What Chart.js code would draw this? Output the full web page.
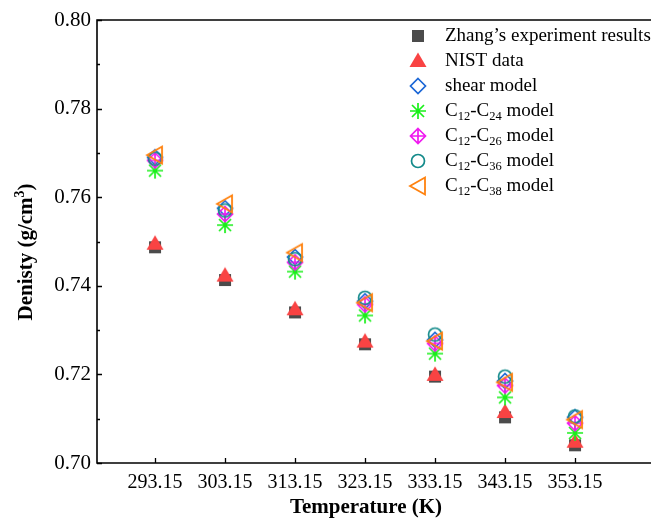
<!DOCTYPE html>
<html>
<head>
<meta charset="utf-8">
<script src="https://cdn.jsdelivr.net/npm/chart.js@4.4.0/dist/chart.umd.min.js"></script>
<style>
  html, body { margin: 0; padding: 0; background: #fff; overflow: hidden; }
  #wrap { width: 651px; height: 526px; position: relative; }
</style>
</head>
<body>
<div id="wrap"><canvas id="myChart" width="651" height="526"></canvas></div>
<script>
'use strict';

// temperatures on the x axis (K)
const temps = [293.15, 303.15, 313.15, 323.15, 333.15, 343.15, 353.15];
// density values (g/cm3), one array per series
const zhang = [0.7487, 0.7413, 0.7340, 0.7268, 0.7195, 0.7103, 0.7040];
const nist  = [0.7495, 0.7423, 0.7347, 0.7274, 0.7199, 0.7115, 0.7048];
const shear = [0.7690, 0.7575, 0.7465, 0.7365, 0.7278, 0.7185, 0.7103];
const c24   = [0.7660, 0.7537, 0.7432, 0.7333, 0.7247, 0.7148, 0.7068];
const c26   = [0.7683, 0.7562, 0.7453, 0.7358, 0.7270, 0.7175, 0.7090];
const c36   = [0.7687, 0.7570, 0.7460, 0.7373, 0.7290, 0.7195, 0.7105];
const c38   = [0.7695, 0.7585, 0.7475, 0.7362, 0.7275, 0.7182, 0.7098];
// y tick labels
const yTicks = [0.70, 0.72, 0.74, 0.76, 0.78, 0.80];
const yMinor = [0.71, 0.73, 0.75, 0.77, 0.79];

const serif = '"Liberation Serif", "Times New Roman", serif';

// builds a small canvas with a marker drawn in its middle
function makeMarker(draw) {
  let c = document.createElement('canvas');
  c.width = 24;
  c.height = 24;
  let ctx = c.getContext('2d');
  ctx.translate(12, 12);
  ctx.lineJoin = 'miter';
  draw(ctx);
  return c;
}

const markers = {
  square: makeMarker(function (ctx) {
    ctx.fillStyle = '#4b4b4b';
    ctx.fillRect(-6, -6, 12, 12);
  }),
  triangle: makeMarker(function (ctx) {
    ctx.fillStyle = '#f94343';
    ctx.beginPath();
    ctx.moveTo(0, -8.5);
    ctx.lineTo(8.5, 6);
    ctx.lineTo(-8.5, 6);
    ctx.closePath();
    ctx.fill();
  }),
  diamond: makeMarker(function (ctx) {
    ctx.strokeStyle = '#1a66d6';
    ctx.lineWidth = 1.7;
    ctx.beginPath();
    ctx.moveTo(0, -7.5);
    ctx.lineTo(7.5, 0);
    ctx.lineTo(0, 7.5);
    ctx.lineTo(-7.5, 0);
    ctx.closePath();
    ctx.stroke();
  }),
  star: makeMarker(function (ctx) {
    ctx.strokeStyle = '#19f019';
    ctx.lineWidth = 1.7;
    ctx.beginPath();
    ctx.moveTo(-8, 0); ctx.lineTo(8, 0);
    ctx.moveTo(0, -8); ctx.lineTo(0, 8);
    ctx.moveTo(-6, -6); ctx.lineTo(6, 6);
    ctx.moveTo(-6, 6); ctx.lineTo(6, -6);
    ctx.stroke();
  }),
  crossDiamond: makeMarker(function (ctx) {
    ctx.strokeStyle = '#f019f0';
    ctx.lineWidth = 1.7;
    ctx.beginPath();
    ctx.moveTo(0, -7.5);
    ctx.lineTo(7.5, 0);
    ctx.lineTo(0, 7.5);
    ctx.lineTo(-7.5, 0);
    ctx.closePath();
    ctx.moveTo(0, -7.5); ctx.lineTo(0, 7.5);
    ctx.moveTo(-7.5, 0); ctx.lineTo(7.5, 0);
    ctx.stroke();
  }),
  circle: makeMarker(function (ctx) {
    ctx.strokeStyle = '#138a8a';
    ctx.lineWidth = 1.7;
    ctx.beginPath();
    ctx.arc(0, 0, 6.5, 0, Math.PI * 2);
    ctx.stroke();
  }),
  leftTri: makeMarker(function (ctx) {
    ctx.strokeStyle = '#ff820f';
    ctx.lineWidth = 1.8;
    ctx.beginPath();
    ctx.moveTo(-8, 0);
    ctx.lineTo(7, -8.5);
    ctx.lineTo(7, 8.5);
    ctx.closePath();
    ctx.stroke();
  })
};

// legend labels: [text, subscript, text, subscript, text]
const seriesList = [
  { label: ['Zhang\u2019s experiment results'], data: zhang, marker: markers.square },
  { label: ['NIST data'], data: nist, marker: markers.triangle },
  { label: ['shear model'], data: shear, marker: markers.diamond },
  { label: ['C', '12', '-C', '24', ' model'], data: c24, marker: markers.star },
  { label: ['C', '12', '-C', '26', ' model'], data: c26, marker: markers.crossDiamond },
  { label: ['C', '12', '-C', '36', ' model'], data: c36, marker: markers.circle },
  { label: ['C', '12', '-C', '38', ' model'], data: c38, marker: markers.leftTri }
];

// turn the arrays into chart.js datasets, later series drawn on top
const datasets = seriesList.map(function (s, i) {
  return {
    label: s.label.join(''),
    data: temps.map(function (t, j) { return { x: t, y: s.data[j] }; }),
    pointStyle: s.marker,
    pointRadius: 8,
    pointHoverRadius: 8,
    showLine: false,
    order: seriesList.length - i
  };
});

// frame, inward ticks, axis titles and the legend
const framePlugin = {
  id: 'frame',
  afterDraw: function (chart) {
    const ctx = chart.ctx;
    const area = chart.chartArea;
    const xs = chart.scales.x;
    const ys = chart.scales.y;
    const right = 651;
    ctx.save();
    ctx.strokeStyle = '#000';
    ctx.lineWidth = 1.6;
    ctx.beginPath();
    ctx.moveTo(right, area.top);
    ctx.lineTo(area.left, area.top);
    ctx.lineTo(area.left, area.bottom);
    ctx.lineTo(right, area.bottom);
    ctx.stroke();

    ctx.lineWidth = 1.3;
    ctx.beginPath();
    yTicks.forEach(function (v) {
      let py = Math.round(ys.getPixelForValue(v)) + 0.5;
      ctx.moveTo(area.left, py);
      ctx.lineTo(area.left + 5, py);
    });
    yMinor.forEach(function (v) {
      let py = Math.round(ys.getPixelForValue(v)) + 0.5;
      ctx.moveTo(area.left, py);
      ctx.lineTo(area.left + 3, py);
    });
    temps.forEach(function (t) {
      let px = Math.round(xs.getPixelForValue(t)) + 0.5;
      ctx.moveTo(px, area.bottom);
      ctx.lineTo(px, area.bottom - 5);
    });
    ctx.stroke();

    // axis titles
    ctx.fillStyle = '#000';
    ctx.font = 'bold 21px ' + serif;
    ctx.textAlign = 'center';
    ctx.textBaseline = 'middle';
    ctx.fillText('Temperature (K)', 366, 508);

    ctx.save();
    ctx.translate(27, 252);
    ctx.rotate(-Math.PI / 2);
    ctx.textAlign = 'left';
    let main = 'Denisty (g/cm';
    let w = ctx.measureText(main).width;
    ctx.font = 'bold 21px ' + serif;
    let w2 = ctx.measureText(')').width;
    ctx.font = 'bold 14px ' + serif;
    let w3 = ctx.measureText('3').width;
    let total = w + w3 + w2;
    ctx.font = 'bold 21px ' + serif;
    ctx.fillText(main, -total / 2, 0);
    ctx.font = 'bold 14px ' + serif;
    ctx.fillText('3', -total / 2 + w, -7);
    ctx.font = 'bold 21px ' + serif;
    ctx.fillText(')', -total / 2 + w + w3, 0);
    ctx.restore();

    // legend
    ctx.textAlign = 'left';
    ctx.textBaseline = 'middle';
    seriesList.forEach(function (s, i) {
      let y = 36 + i * 25;
      ctx.drawImage(s.marker, 418 - 12, y - 12);
      let x = 445;
      s.label.forEach(function (part, k) {
        if (k % 2 === 1) {
          ctx.font = '12.5px ' + serif;
          ctx.fillText(part, x, y + 6);
        } else {
          ctx.font = '19px ' + serif;
          ctx.fillText(part, x, y);
        }
        x += ctx.measureText(part).width;
      });
    });
    ctx.restore();
  }
};

const config = {
  type: 'scatter',
  data: { datasets: datasets },
  options: {
    responsive: false,
    animation: false,
    layout: { padding: { top: 20, right: 26, left: 0, bottom: 0 } },
    plugins: {
      legend: { display: false },
      tooltip: { enabled: false }
    },
    scales: {
      x: {
        type: 'linear',
        min: 284.86,
        max: 360.29,
        afterBuildTicks: function (scale) {
          scale.ticks = temps.map(function (t) { return { value: t }; });
        },
        afterFit: function (scale) { scale.height = 63; },
        grid: { display: false, drawTicks: false },
        border: { display: false },
        ticks: {
          padding: 8,
          color: '#000',
          font: { family: serif, size: 20 },
          maxRotation: 0,
          autoSkip: false,
          callback: function (v) { return v.toFixed(2); }
        }
      },
      y: {
        min: 0.70,
        max: 0.80,
        afterBuildTicks: function (scale) {
          scale.ticks = yTicks.map(function (v) { return { value: v }; });
        },
        afterFit: function (scale) { scale.width = 97; },
        grid: { display: false, drawTicks: false },
        border: { display: false },
        ticks: {
          padding: 6,
          color: '#000',
          font: { family: serif, size: 21 },
          callback: function (v) { return v.toFixed(2); }
        }
      }
    }
  },
  plugins: [framePlugin]
};

const myChart = new Chart(document.getElementById('myChart'), config);
</script>
</body>
</html>
